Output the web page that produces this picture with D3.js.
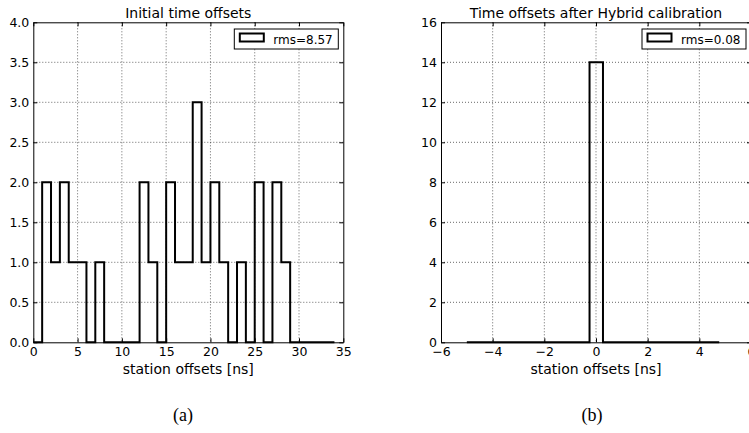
<!DOCTYPE html>
<html>
<head>
<meta charset="utf-8">
<script src="https://cdn.jsdelivr.net/npm/d3@7"></script>
<style>
body{margin:0;background:#fff;}
text{font-family:"DejaVu Sans",sans-serif;fill:#000;}
</style>
</head>
<body>
<svg id="chart" width="749" height="433"></svg>
<script>
// left histogram: 1 ns bins from 0 to 34
var leftEdges = d3.range(0, 35, 1);
var leftCounts = [0,2,1,2,1,1,0,1,0,0,0,0,2,1,0,2,1,1,3,1,2,1,0,1,0,2,0,2,1,0,0,0,0,0];
var leftXTicks = [0,5,10,15,20,25,30,35];
var leftYTicks = [0,0.5,1,1.5,2,2.5,3,3.5,4];

// right histogram
var rightEdges = [-5, -0.25, 0.27, 4.77];
var rightCounts = [0, 14, 0];
var rightXTicks = [-6,-4,-2,0,2,4,6];
var rightYTicks = [0,2,4,6,8,10,12,14,16];

var svg = d3.select("#chart");

function drawPanel(o){
    var x = d3.scaleLinear().domain(o.xDomain).range([o.left, o.left + 310]);
    var y = d3.scaleLinear().domain(o.yDomain).range([342.3, 22.3]);
    var g = svg.append("g");

    // grid
    g.selectAll(".gx").data(o.xTicks.slice(1, -1)).enter().append("line")
        .attr("x1", d => x(d)).attr("x2", d => x(d))
        .attr("y1", y.range()[1]).attr("y2", y.range()[0])
        .attr("stroke", "#000").attr("stroke-width", 0.6).attr("stroke-dasharray", "1,2");
    g.selectAll(".gy").data(o.yTicks.slice(1, -1)).enter().append("line")
        .attr("x1", x.range()[0]).attr("x2", x.range()[1])
        .attr("y1", d => y(d)).attr("y2", d => y(d))
        .attr("stroke", "#000").attr("stroke-width", 0.6).attr("stroke-dasharray", "1,2");

    // histogram step outline
    var pts = [[o.edges[0], 0]];
    o.counts.forEach(function(c, i){
        pts.push([o.edges[i], c]);
        pts.push([o.edges[i+1], c]);
    });
    pts.push([o.edges[o.edges.length-1], 0]);
    var line = d3.line().x(d => x(d[0])).y(d => y(d[1]));
    g.append("path").attr("d", line(pts))
        .attr("fill", "none").attr("stroke", "#000").attr("stroke-width", 2);

    // axes (inward ticks, on all sides)
    var fmtY = o.yFmt;
    g.append("g").attr("transform", "translate(0,342.3)")
        .call(d3.axisBottom(x).tickValues(o.xTicks).tickSizeInner(-4).tickSizeOuter(0).tickPadding(5)
            .tickFormat(d => d < 0 ? "\u2212" + Math.abs(d) : d));
    g.append("g").attr("transform", "translate(0,22.3)")
        .call(d3.axisTop(x).tickValues(o.xTicks).tickSizeInner(-4).tickSizeOuter(0).tickFormat(""));
    g.append("g").attr("transform", "translate(" + x.range()[0] + ",0)")
        .call(d3.axisLeft(y).tickValues(o.yTicks).tickSizeInner(-4).tickSizeOuter(0).tickPadding(4).tickFormat(fmtY));
    g.append("g").attr("transform", "translate(" + x.range()[1] + ",0)")
        .call(d3.axisRight(y).tickValues(o.yTicks).tickSizeInner(-4).tickSizeOuter(0).tickFormat(""));
    g.selectAll(".domain").attr("stroke", "#000").attr("stroke-width", 1);
    g.selectAll(".tick text").style("font-family", "DejaVu Sans").style("font-size", "12.5px").attr("fill", "#000");
    g.selectAll(".tick line").attr("stroke", "#000");

    // title and label
    var cx = (x.range()[0] + x.range()[1]) / 2;
    g.append("text").attr("x", cx).attr("y", 18).attr("text-anchor", "middle")
        .style("font-size", "14px").text(o.title);
    g.append("text").attr("x", cx).attr("y", 374).attr("text-anchor", "middle")
        .style("font-size", "14px").text("station offsets [ns]");

    // legend
    var lx = x.range()[1] - 109;
    g.append("rect").attr("x", lx).attr("y", 29).attr("width", 104).attr("height", 20)
        .attr("fill", "#fff").attr("stroke", "#000").attr("stroke-width", 1);
    g.append("rect").attr("x", lx + 5.5).attr("y", 33.5).attr("width", 24).attr("height", 8)
        .attr("fill", "#fff").attr("stroke", "#000").attr("stroke-width", 2);
    g.append("text").attr("x", lx + 39).attr("y", 43.5).style("font-size", "12px").text(o.legend);

    // caption
    svg.append("text").attr("x", o.capX).attr("y", 421).attr("text-anchor", "middle")
        .style("font-family", "Liberation Serif").style("font-size", "18px").text(o.caption);
}

drawPanel({left: 33.3, xDomain: [0, 35], yDomain: [0, 4], edges: leftEdges, counts: leftCounts,
    xTicks: leftXTicks, yTicks: leftYTicks, yFmt: d3.format(".1f"),
    title: "Initial time offsets", legend: "rms=8.57", caption: "(a)", capX: 183});
drawPanel({left: 441, xDomain: [-6, 6], yDomain: [0, 16], edges: rightEdges, counts: rightCounts,
    xTicks: rightXTicks, yTicks: rightYTicks, yFmt: d3.format("d"),
    title: "Time offsets after Hybrid calibration", legend: "rms=0.08", caption: "(b)", capX: 592});
</script>
</body>
</html>
